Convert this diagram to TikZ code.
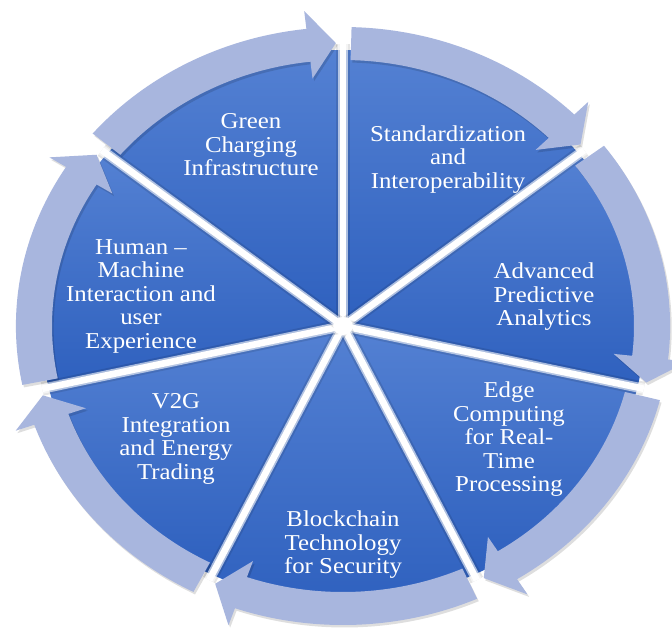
\documentclass[tikz,border=0pt]{standalone}
\usepackage{fontspec}
\setmainfont{Liberation Serif}
\definecolor{segtop}{RGB}{84,129,211}
\definecolor{segbot}{RGB}{46,96,190}
\definecolor{arrowfill}{RGB}{168,182,222}
\begin{document}
\begin{tikzpicture}[x=0.5pt,y=0.5pt,
  lbl/.style={text=white, align=center, font=\fontsize{11.35}{11.75}\selectfont, xscale=1.094, inner sep=0pt},
  seg/.style={top color=segtop, bottom color=segbot},
  ringarrow/.style={fill=arrowfill},
  ringshadow/.style={fill=black, opacity=0.13}]
\useasboundingbox (0,0) rectangle (672,629);
\fill[white] (0,0) rectangle (672,629);
\coordinate (C) at (343,303);
\begin{scope}[shift={(C)}, xscale=1.094]
  % pie segments
  \foreach \k in {0,...,6} {
    \pgfmathsetmacro\A{90-51.4286*\k}
    \pgfmathsetmacro\B{\A-51.4286}
    \shade[seg] (0,0) -- (\A:276) arc[start angle=\A, end angle=\B, radius=276] -- cycle;
  }
  % gaps between segments
  \foreach \k in {0,...,6} {
    \pgfmathsetmacro\A{90-51.4286*\k}
    \draw[black, opacity=0.10, line width=7pt] (0,0) -- (\A:282);
    \draw[white, opacity=0.6, line width=5pt] (0,0) -- (\A:282);
    \draw[white, line width=3.3pt] (0,0) -- (\A:282);
  }
  \fill[white] (0,0) circle[radius=9];
  % ring arrows
  \foreach \k in {0,...,6} {
    \pgfmathsetmacro\A{90-51.4286*\k}
    \pgfmathsetmacro\T{\A-1.5}
    \pgfmathsetmacro\H{\A-45.0}
    \pgfmathsetmacro\P{\A-50.1}
    \fill[ringshadow, shift={(1.5,-2.5)}] (\T:299) arc[start angle=\T, end angle=\H, radius=299] -- (\H:317) -- (\P:283) -- (\H:249) -- (\H:266) arc[start angle=\H, end angle=\T, radius=266] -- cycle;
    \fill[ringarrow] (\T:299) arc[start angle=\T, end angle=\H, radius=299] -- (\H:317) -- (\P:283) -- (\H:249) -- (\H:266) arc[start angle=\H, end angle=\T, radius=266] -- cycle;
  }
\end{scope}
% labels
\node[lbl] (green) at (251,484) {Green\\Charging\\Infrastructure};
\node[lbl] (stand) at (448,469.5) {Standardization\\and\\Interoperability};
\node[lbl] (adv) at (544,332) {Advanced\\Predictive\\Analytics};
\node[lbl] (edge) at (509,189.5) {Edge\\Computing\\for Real-\\Time\\Processing};
\node[lbl] (block) at (343,84) {Blockchain\\Technology\\for Security};
\node[lbl] (v2g) at (176,190) {V2G\\Integration\\and Energy\\Trading};
\node[lbl] (human) at (141,333) {Human –\\Machine\\Interaction and\\user\\Experience};
\end{tikzpicture}
\end{document}
